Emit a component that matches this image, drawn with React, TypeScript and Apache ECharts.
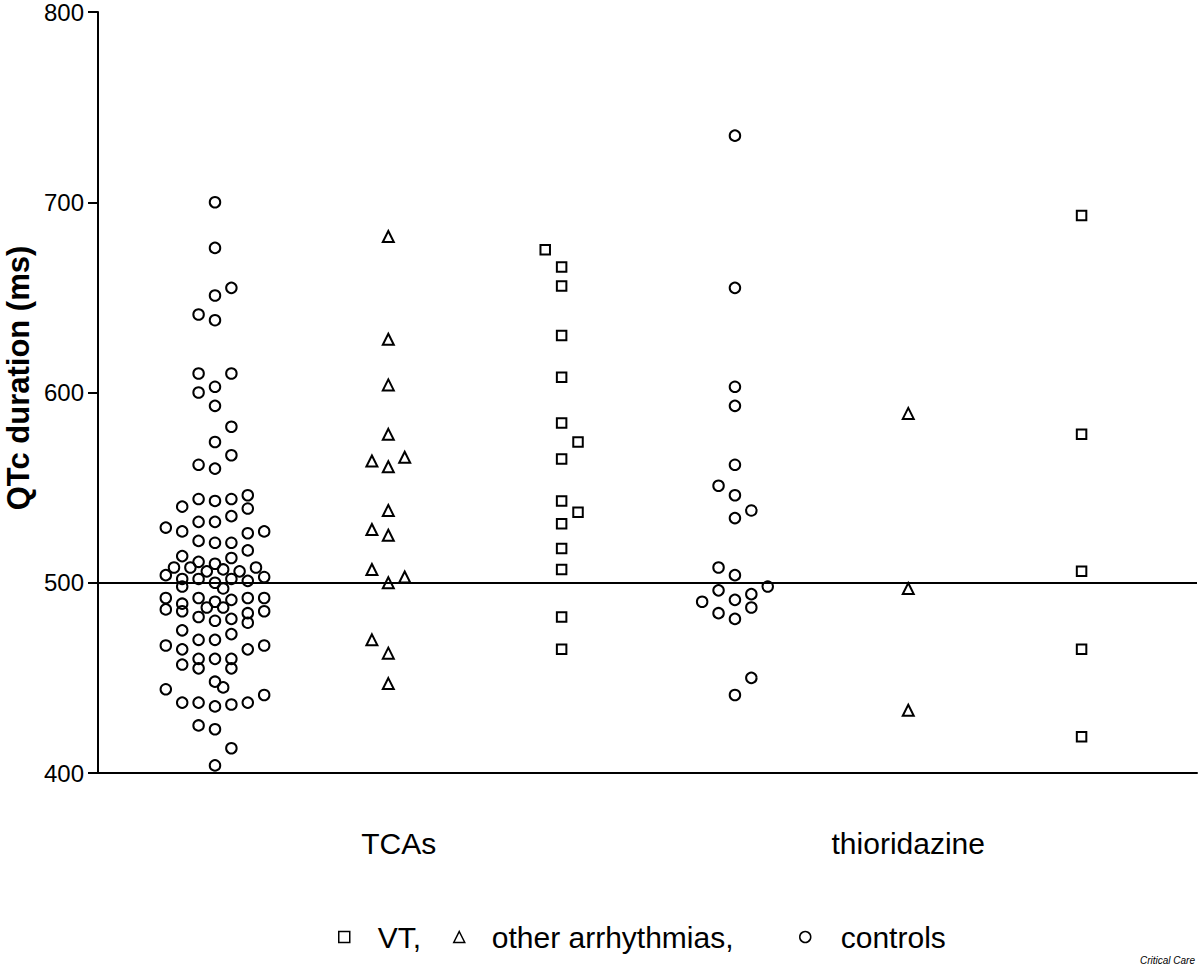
import React, { useEffect, useRef } from "react";
import * as echarts from "echarts";

// [jitter offset in half-steps, QTc value in ms]
const tcaControls: [number, number][] = [
  [0, 700], [0, 676], [2, 655], [0, 651], [-2, 641], [0, 638], [-2, 610], [2, 610], [0, 603], [-2, 600],
  [0, 593], [2, 582], [0, 574], [2, 567], [-2, 562], [0, 560], [-2, 544], [0, 543], [2, 544], [4, 546],
  [-4, 540], [4, 539], [2, 535], [-2, 532], [0, 532], [-6, 529], [-4, 527], [4, 526], [6, 527], [-2, 522],
  [0, 521], [2, 521], [4, 517], [-4, 514], [-2, 511], [0, 510], [2, 513], [-5, 508], [-3, 508], [-1, 506],
  [1, 507], [3, 506], [5, 508], [-6, 504], [-4, 502], [-2, 502], [0, 500], [1, 497], [2, 502], [4, 501],
  [6, 503], [-4, 498], [-6, 492], [-4, 489], [-2, 492], [0, 490], [2, 491], [4, 492], [6, 492], [-6, 486],
  [-4, 485], [-1, 487], [1, 487], [4, 484], [6, 485], [-2, 482], [0, 480], [2, 481], [4, 479], [-4, 475],
  [-2, 470], [0, 470], [2, 473], [-6, 467], [-4, 465], [4, 465], [6, 467], [-4, 457], [-2, 460], [-2, 455],
  [0, 460], [2, 460], [2, 455], [0, 448], [1, 445], [-6, 444], [-4, 437], [-2, 437], [0, 435], [2, 436],
  [4, 437], [6, 441], [-2, 425], [0, 423], [2, 413], [0, 404],
];
const tcaOther: [number, number][] = [
  [0, 682], [0, 628], [0, 604], [0, 578], [-2, 564], [2, 566], [0, 561], [0, 538], [-2, 528], [0, 525],
  [-2, 507], [2, 503], [0, 500], [-2, 470], [0, 463], [0, 447],
];
const tcaVT: [number, number][] = [
  [-2, 675], [0, 666], [0, 656], [0, 630], [0, 608], [0, 584], [2, 574], [0, 565], [0, 543], [2, 537],
  [0, 531], [0, 518], [0, 507], [0, 482], [0, 465],
];
const thioControls: [number, number][] = [
  [0, 735], [0, 655], [0, 603], [0, 593], [0, 562], [-2, 551], [0, 546], [2, 538], [0, 534], [-2, 508],
  [0, 504], [4, 498], [-2, 496], [2, 494], [-4, 490], [0, 491], [2, 487], [-2, 484], [0, 481], [2, 450],
  [0, 441],
];
const thioOther: [number, number][] = [[0, 589], [0, 497], [0, 433]];
const thioVT: [number, number][] = [[0, 693], [0, 578], [0, 506], [0, 465], [0, 419]];

const seriesNames = ["VT", "other arrhythmias", "controls"];
const legendLabels = ["VT,", "other arrhythmias,", "controls"];
const groupLabels = ["TCAs", "thioridazine"];
const groupLabelValues = [2.06, 5];
const yTicks = [400, 500, 600, 700, 800];
const referenceValue = 500;

const HALF_STEP = 0.0473;
const FONT = "'Liberation Sans', Arial, sans-serif";

const toPoints = (pos: number, pts: [number, number][]) =>
  pts.map(([off, v]) => [pos + off * HALF_STEP, v]);

export default function App() {
  const ref = useRef<HTMLDivElement>(null);
  useEffect(() => {
    if (!ref.current) return;
    const chart = echarts.init(ref.current, null, { renderer: "svg" });
    const hollow = { color: "rgba(0,0,0,0)", borderColor: "#000", borderWidth: 2, opacity: 1 };
    const legendBase = {
      orient: "horizontal" as const,
      top: 922,
      padding: 0,
      itemWidth: 11,
      itemHeight: 11,
      itemStyle: { color: "rgba(0,0,0,0)", borderColor: "#000", borderWidth: 1.5, opacity: 1 },
      selectedMode: false,
      formatter: (n: string) => legendLabels[seriesNames.indexOf(n)],
    };
    chart.setOption({
      animation: false,
      backgroundColor: "#fff",
      grid: { left: 98, right: 3, top: 11, bottom: 195, containLabel: false },
      xAxis: {
        type: "value",
        min: 0.325,
        max: 6.666,
        axisLine: { show: true, onZero: false, lineStyle: { color: "#000", width: 2 } },
        axisTick: { show: false },
        splitLine: { show: false },
        axisLabel: {
          customValues: groupLabelValues,
          formatter: (v: number) => {
            let best = 0;
            groupLabelValues.forEach((g, i) => {
              if (Math.abs(g - v) < Math.abs(groupLabelValues[best] - v)) best = i;
            });
            return groupLabels[best];
          },
          color: "#000",
          fontFamily: FONT,
          fontSize: 30,
          margin: 55,
          verticalAlign: "top",
        },
      },
      yAxis: {
        type: "value",
        min: 400,
        max: 800,
        interval: 100,
        axisLine: { show: true, onZero: false, lineStyle: { color: "#000", width: 2 } },
        axisTick: { show: true, length: 10, lineStyle: { color: "#000", width: 2 } },
        splitLine: { show: false },
        axisLabel: {
          color: "#000",
          fontFamily: FONT,
          fontSize: 24,
          margin: 14,
          formatter: (v: number) => (yTicks.includes(v) ? String(v) : ""),
        },
      },
      legend: [
        { ...legendBase, left: 338, data: [seriesNames[0]], textStyle: { fontFamily: FONT, fontSize: 30, color: "#000", padding: [0, 0, 0, 23] } },
        { ...legendBase, left: 453, data: [seriesNames[1]], textStyle: { fontFamily: FONT, fontSize: 30, color: "#000", padding: [0, 0, 0, 22] } },
        { ...legendBase, left: 799, data: [seriesNames[2]], textStyle: { fontFamily: FONT, fontSize: 30, color: "#000", padding: [0, 0, 0, 25] } },
      ],
      graphic: [
        {
          type: "text",
          x: 18,
          y: 378,
          rotation: Math.PI / 2,
          style: {
            text: "QTc duration (ms)",
            font: `bold 31px ${FONT}`,
            fill: "#000",
            align: "center",
            verticalAlign: "middle",
            textAlign: "center",
            textVerticalAlign: "middle",
          },
        },
        {
          type: "text",
          right: 5,
          bottom: 3,
          style: {
            text: "Critical Care",
            font: `italic 10px ${FONT}`,
            fill: "#000",
          },
        },
      ],
      series: [
        {
          name: seriesNames[0],
          type: "scatter",
          symbol: "rect",
          symbolSize: 9.5,
          itemStyle: hollow,
          data: [...toPoints(3, tcaVT), ...toPoints(6, thioVT)],
          markLine: {
            silent: true,
            symbol: ["none", "none"],
            label: { show: false },
            lineStyle: { color: "#000", width: 2, type: "solid" },
            data: [{ yAxis: referenceValue }],
          },
        },
        {
          name: seriesNames[1],
          type: "scatter",
          symbol: "triangle",
          symbolSize: 11,
          itemStyle: hollow,
          data: [...toPoints(2, tcaOther), ...toPoints(5, thioOther)],
        },
        {
          name: seriesNames[2],
          type: "scatter",
          symbol: "circle",
          symbolSize: 10.5,
          itemStyle: hollow,
          data: [...toPoints(1, tcaControls), ...toPoints(4, thioControls)],
        },
      ],
    });
    return () => chart.dispose();
  }, []);
  return (
    <div
      ref={ref}
      style={{ position: "fixed", left: 0, top: 0, width: 1200, height: 968, background: "#fff" }}
    />
  );
}
